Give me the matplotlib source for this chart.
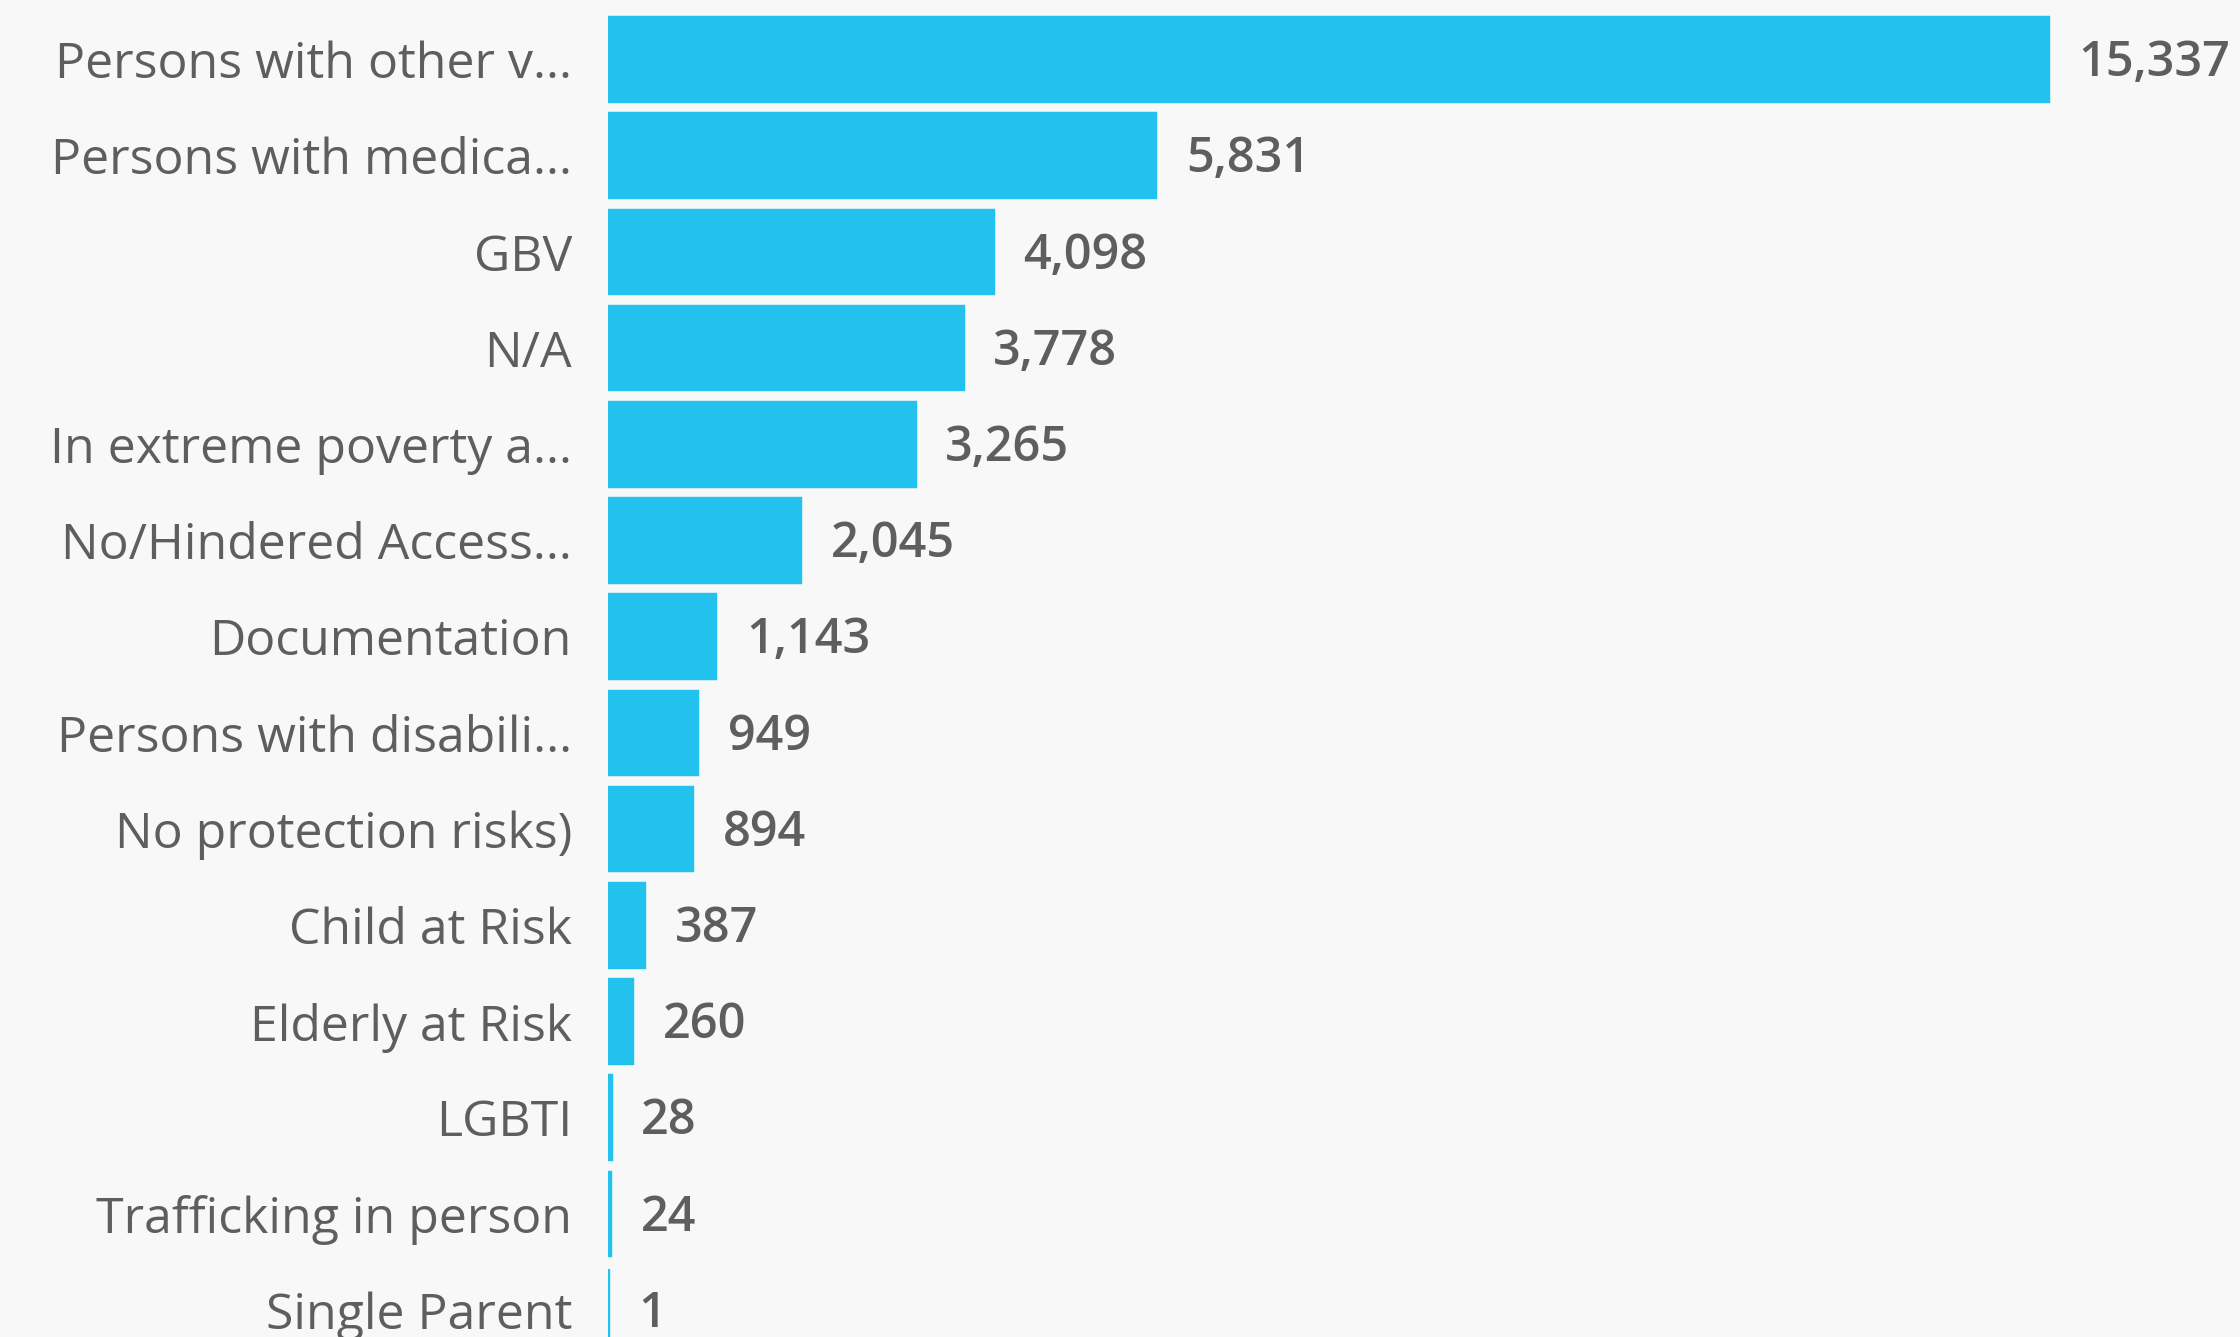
import numpy as np
import matplotlib.pyplot as plt

categories = ["Persons with other v...", "Persons with medica...", "GBV", "N/A",
              "In extreme poverty a...", "No/Hindered Access...", "Documentation",
              "Persons with disabili...", "No protection risks)", "Child at Risk",
              "Elderly at Risk", "LGBTI", "Trafficking in person", "Single Parent"]
values = [15337, 5831, 4098, 3778, 3265, 2045, 1143, 949, 894, 387, 260, 28, 24, 1]

bar_color = "#22C1EE"
text_color = "#605E5C"
bg = "#F8F8F8"

W, H = 2240, 1337
fig = plt.figure(figsize=(W / 100, H / 100), dpi=100, facecolor=bg)

# axes spans from the bar origin to the right edge, full height
x0 = 608
ax = fig.add_axes([x0 / W, 0, 1 - x0 / W, 1])
ax.set_facecolor(bg)

y = np.arange(len(categories))
# edge line gives the tiny bars a minimum visible width
bars = ax.barh(y, values, height=0.86, color=bar_color, edgecolor=bar_color,
               linewidth=3.2)

# 15,337 ends near pixel 2050 (incl. edge)
ax.set_xlim(0, values[0] * (W - x0) / (2048 - x0))
pitch = 96.2
first_center = 59.5
ax.set_ylim((H - first_center) / pitch, -first_center / pitch)

ax.set_yticks(y)
ax.set_yticklabels(categories, fontsize=36, color=text_color, family="Open Sans")
ax.tick_params(axis="y", length=0, pad=26)
ax.set_xticks([])
for s in ax.spines.values():
    s.set_visible(False)

labels = ax.bar_label(bars, labels=[f"{v:,}" for v in values], padding=22,
                      fontsize=35, color=text_color, family="Open Sans",
                      fontweight="semibold")
for lab in labels:
    lab.xyann = (22, -3)

fig.savefig("out.png", dpi=100, facecolor=bg)
